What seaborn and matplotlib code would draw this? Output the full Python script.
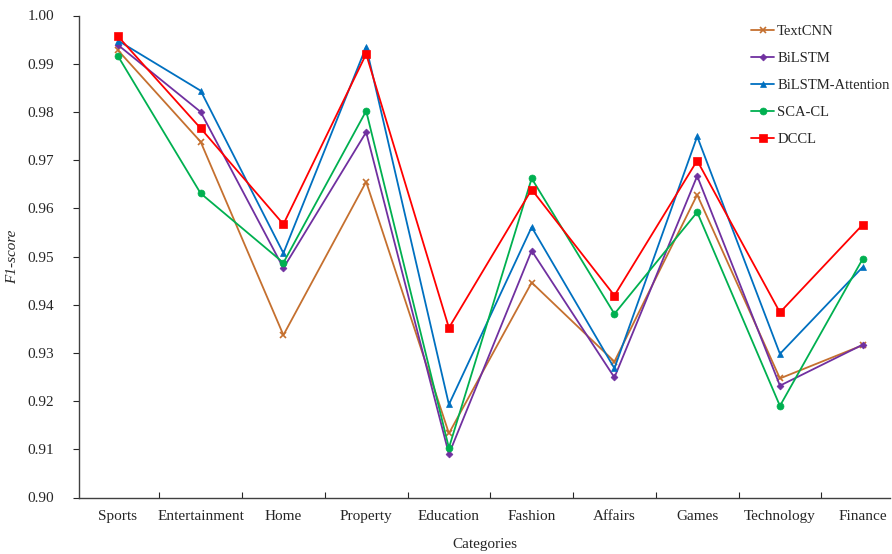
import matplotlib
matplotlib.use("Agg")
import matplotlib.pyplot as plt
import seaborn as sns
import pandas as pd
import numpy as np
from matplotlib.ticker import FixedLocator, FormatStrFormatter

categories = ["Sports", "Entertainment", "Home", "Property", "Education",
              "Fashion", "Affairs", "Games", "Technology", "Finance"]
textcnn = [0.9928, 0.9738, 0.9337, 0.9655, 0.9133, 0.9446, 0.9282, 0.9628, 0.9247, 0.9316]
bilstm = [0.9939, 0.9800, 0.9476, 0.9758, 0.9090, 0.9512, 0.9249, 0.9667, 0.9232, 0.9317]
bilstm_att = [0.9948, 0.9844, 0.9507, 0.9935, 0.9193, 0.9561, 0.9268, 0.9749, 0.9298, 0.9478]
sca_cl = [0.9916, 0.9631, 0.9487, 0.9802, 0.9103, 0.9662, 0.9381, 0.9592, 0.9190, 0.9495]
dccl = [0.9957, 0.9766, 0.9567, 0.9920, 0.9352, 0.9639, 0.9419, 0.9699, 0.9384, 0.9566]

models = ["TextCNN", "BiLSTM", "BiLSTM-Attention", "SCA-CL", "DCCL"]
series = [textcnn, bilstm, bilstm_att, sca_cl, dccl]
colors = ["#C5702F", "#7030A0", "#0070C0", "#00B050", "#FF0000"]
markers = ["x", "D", "^", "o", "s"]
msizes = [4, 3.5, 5, 5, 5.5]

rows = []
for m, vals in zip(models, series):
    for i, v in enumerate(vals):
        rows.append({"idx": i, "category": categories[i], "model": m, "value": v})
df = pd.DataFrame(rows)

sns.set_style("white")
plt.rcParams["font.family"] = ["Liberation Serif", "DejaVu Serif"]

fig = plt.figure(figsize=(8.92, 5.54), dpi=100)
ax = fig.add_axes([79/892, 1-497.5/554, (890-79)/892, (497.5-15.5)/554])

for m, c, mk, ms in zip(models, colors, markers, msizes):
    sub = df[df["model"] == m]
    sns.lineplot(data=sub, x="idx", y="value", ax=ax, color=c, marker=mk,
                 markersize=ms, linewidth=1.3, label=m,
                 markeredgecolor=c, markeredgewidth=1.2 if mk == "x" else 0.5)

ax.set_xlim(-0.47, 9.33)
ax.set_ylim(0.90, 1.00)
ax.yaxis.set_major_locator(FixedLocator(np.arange(0.90, 1.0001, 0.01)))
ax.yaxis.set_major_formatter(FormatStrFormatter("%.2f"))
ax.tick_params(axis="y", direction="out", length=4, width=0.8, labelsize=11, left=True, pad=14)

ax.xaxis.set_major_locator(FixedLocator(np.arange(0.5, 9.0, 1.0)))
ax.set_xticklabels([])
ax.xaxis.set_minor_locator(FixedLocator(np.arange(0, 10)))
ax.set_xticklabels(categories, minor=True)
ax.tick_params(axis="x", which="major", direction="in", length=4, width=0.8, bottom=True)
ax.tick_params(axis="x", which="minor", length=0, labelsize=11, pad=9)

for s in ["top", "right"]:
    ax.spines[s].set_visible(False)
for s in ["left", "bottom"]:
    ax.spines[s].set_color("#404040")
    ax.spines[s].set_linewidth(1.0)

ax.set_xlabel("Categories", fontsize=11, labelpad=11)
ax.set_ylabel("F1-score", fontsize=11, fontstyle="italic", labelpad=6)

leg = ax.legend(loc="upper right", bbox_to_anchor=(1.012, 1.002), frameon=False,
                fontsize=10.5, handlelength=1.6, handletextpad=0.2, labelspacing=0.95,
                borderaxespad=0.3)

fig.savefig("out.png", dpi=100)
